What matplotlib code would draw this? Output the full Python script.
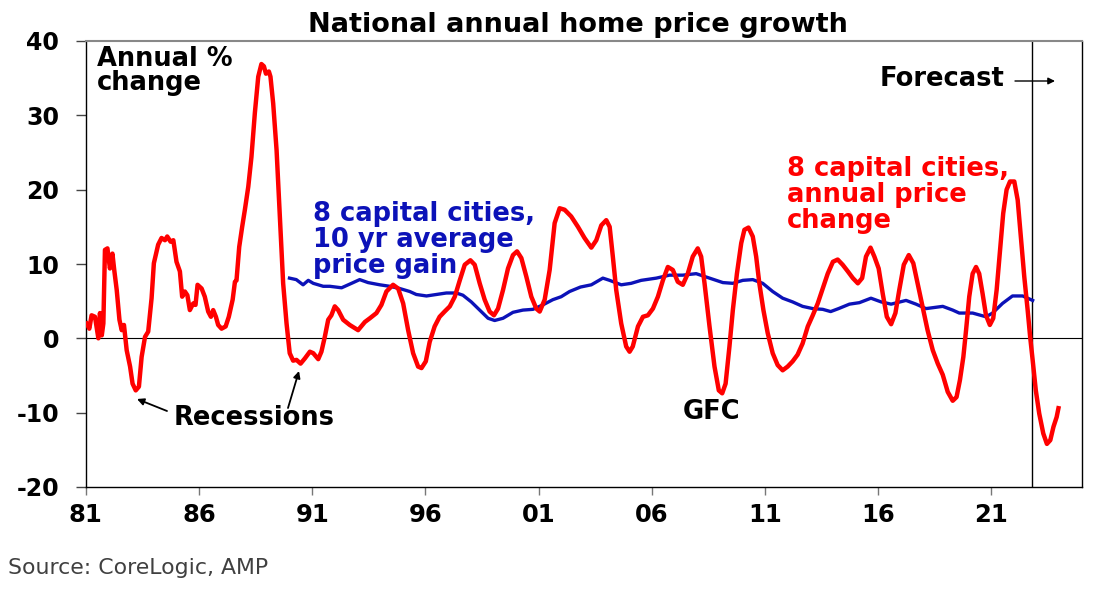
import matplotlib
matplotlib.use("Agg")
import matplotlib.pyplot as plt
import numpy as np

# ---------------- data ----------------
red_years = [1981.04, 1981.16, 1981.26, 1981.41, 1981.56, 1981.63, 1981.71, 1981.78, 1981.85, 1981.96,
             1982.07, 1982.18, 1982.26, 1982.37, 1982.49, 1982.59, 1982.69, 1982.81, 1982.96, 1983.07,
             1983.21, 1983.35, 1983.47, 1983.62, 1983.76, 1983.91, 1984.01, 1984.20, 1984.35, 1984.50,
             1984.60, 1984.75, 1984.87, 1985.01, 1985.16, 1985.26, 1985.38, 1985.49, 1985.60, 1985.75,
             1985.85, 1985.94, 1986.12, 1986.26, 1986.41, 1986.53, 1986.63, 1986.75, 1986.85, 1987.00,
             1987.18, 1987.32, 1987.49, 1987.59, 1987.66, 1987.78, 1987.91, 1988.03, 1988.18, 1988.32,
             1988.47, 1988.62, 1988.76, 1988.87, 1988.96, 1989.09, 1989.16, 1989.28, 1989.43, 1989.57,
             1989.72, 1989.87, 1990.01, 1990.16, 1990.31, 1990.49, 1990.68, 1990.90, 1991.05, 1991.27,
             1991.41, 1991.56, 1991.71, 1991.85, 1992.00, 1992.15, 1992.37, 1992.66, 1993.03, 1993.33,
             1993.55, 1993.84, 1994.06, 1994.28, 1994.575, 1994.80, 1995.02, 1995.24, 1995.46, 1995.68,
             1995.83, 1996.02, 1996.19, 1996.41, 1996.63, 1996.85, 1997.08, 1997.30, 1997.52, 1997.74,
             1997.99, 1998.18, 1998.40, 1998.62, 1998.84, 1999.03, 1999.21, 1999.43, 1999.65, 1999.87,
             2000.05, 2000.24, 2000.46, 2000.68, 2000.90, 2001.05, 2001.27, 2001.49, 2001.71, 2001.93,
             2002.15, 2002.44, 2002.74, 2003.03, 2003.33, 2003.55, 2003.77, 2003.99, 2004.14, 2004.28,
             2004.43, 2004.65, 2004.87, 2005.02, 2005.16, 2005.39, 2005.61, 2005.83, 2006.05, 2006.27,
             2006.49, 2006.71, 2006.93, 2007.15, 2007.37, 2007.59, 2007.81, 2008.03, 2008.18, 2008.33,
             2008.55, 2008.77, 2008.96, 2009.11, 2009.26, 2009.43, 2009.58, 2009.76, 2009.95, 2010.09,
             2010.27, 2010.46, 2010.61, 2010.75, 2010.93, 2011.12, 2011.34, 2011.56, 2011.78, 2012.00,
             2012.22, 2012.44, 2012.66, 2012.89, 2013.11, 2013.33, 2013.55, 2013.77, 2014.00, 2014.21,
             2014.43, 2014.66, 2014.88, 2015.10, 2015.29, 2015.46, 2015.66, 2015.83, 2016.02, 2016.20,
             2016.38, 2016.57, 2016.76, 2016.93, 2017.13, 2017.35, 2017.55, 2017.74, 2017.96, 2018.18,
             2018.41, 2018.63, 2018.85, 2019.07, 2019.29, 2019.46, 2019.61, 2019.76, 2019.88, 2020.02,
             2020.17, 2020.32, 2020.46, 2020.61, 2020.76, 2020.93, 2021.08, 2021.23, 2021.38, 2021.52,
             2021.67, 2021.82, 2022.01, 2022.16, 2022.30, 2022.45, 2022.60, 2022.71, 2022.82, 2022.96,
             2023.11, 2023.29, 2023.45, 2023.60, 2023.74, 2023.88, 2023.96]
red_values = [2.0, 1.3, 3.1, 2.9, 0.0, 3.4, 0.4, 2.0, 11.9, 12.1,
              9.4, 11.4, 9.2, 6.5, 2.5, 1.1, 1.8, -1.6, -3.8, -6.1,
              -7.0, -6.5, -2.5, 0.2, 0.9, 5.4, 10.1, 12.6, 13.5, 13.2,
              13.7, 13.0, 13.2, 10.3, 9.0, 5.6, 6.3, 5.8, 3.8, 4.7,
              4.5, 7.2, 6.7, 5.6, 3.6, 2.9, 3.8, 2.9, 1.8, 1.3,
              1.6, 2.9, 5.2, 7.6, 7.8, 12.3, 15.0, 17.3, 20.4, 24.4,
              30.3, 35.2, 36.9, 36.6, 35.6, 35.9, 35.2, 31.6, 25.3, 16.8,
              7.4, 2.0, -2.0, -3.0, -2.9, -3.4, -2.7, -1.8, -2.0, -2.8,
              -1.8, 0.2, 2.5, 3.1, 4.3, 3.8, 2.5, 1.8, 1.1, 2.2,
              2.7, 3.4, 4.5, 6.3, 7.2, 6.7, 4.7, 1.1, -2.0, -3.8,
              -4.0, -3.1, -0.5, 1.6, 2.9, 3.6, 4.3, 5.6, 7.8, 9.9,
              10.5, 9.9, 7.4, 5.2, 3.6, 3.1, 4.0, 6.5, 9.4, 11.2,
              11.7, 10.8, 8.3, 5.6, 4.0, 3.6, 5.2, 9.2, 15.5, 17.5,
              17.3, 16.4, 15.0, 13.5, 12.2, 13.2, 15.2, 15.9, 15.0, 11.0,
              6.5, 2.0, -1.1, -1.8, -1.1, 1.6, 2.9, 3.1, 4.0, 5.6,
              7.8, 9.6, 9.2, 7.6, 7.2, 8.7, 11.0, 12.1, 11.0, 7.4,
              1.6, -3.8, -7.0, -7.4, -6.1, -1.1, 3.8, 8.7, 12.8, 14.6,
              14.9, 13.7, 11.0, 7.4, 3.8, 0.7, -2.0, -3.6, -4.3, -3.8,
              -3.1, -2.2, -0.7, 1.6, 3.1, 4.7, 6.7, 8.7, 10.3, 10.6,
              9.9, 9.0, 8.1, 7.4, 8.1, 11.0, 12.2, 11.0, 9.4, 6.0,
              2.9, 1.9, 3.4, 6.5, 9.9, 11.2, 10.1, 7.4, 4.3, 1.1,
              -1.6, -3.4, -4.9, -7.2, -8.4, -7.9, -5.6, -2.5, 1.1, 5.6,
              8.7, 9.6, 8.7, 6.0, 3.1, 1.8, 2.7, 6.5, 11.9, 16.8,
              20.0, 21.1, 21.1, 18.6, 13.7, 8.3, 3.8, 0.2, -2.9, -7.0,
              -10.1, -12.8, -14.2, -13.7, -11.9, -10.6, -9.4]

blue_years = [1990.00, 1990.30, 1990.60, 1990.83, 1991.05, 1991.49, 1991.78, 1992.30, 1992.74, 1993.10,
              1993.47, 1993.99, 1994.43, 1994.87, 1995.31, 1995.60, 1996.05, 1996.49, 1996.93, 1997.37,
              1997.66, 1998.03, 1998.40, 1998.77, 1999.06, 1999.43, 1999.87, 2000.31, 2000.75, 2001.19,
              2001.63, 2002.00, 2002.37, 2002.85, 2003.33, 2003.84, 2004.14, 2004.65, 2005.09, 2005.53,
              2006.20, 2006.78, 2007.37, 2007.96, 2008.55, 2009.14, 2009.58, 2010.02, 2010.46, 2010.90,
              2011.34, 2011.78, 2012.22, 2012.66, 2013.11, 2013.55, 2013.90, 2014.25, 2014.73, 2015.17,
              2015.68, 2016.13, 2016.57, 2017.23, 2017.67, 2018.11, 2018.85, 2019.29, 2019.58, 2020.17,
              2020.76, 2021.05, 2021.49, 2021.93, 2022.38, 2022.82]
blue_values = [8.1, 7.9, 7.2, 7.8, 7.4, 7.0, 7.0, 6.8, 7.4, 7.9,
               7.5, 7.2, 7.0, 6.7, 6.3, 5.9, 5.7, 5.9, 6.1, 6.1,
               5.8, 4.9, 3.8, 2.7, 2.4, 2.7, 3.5, 3.8, 3.9, 4.5,
               5.2, 5.6, 6.3, 6.9, 7.2, 8.1, 7.8, 7.2, 7.4, 7.8,
               8.1, 8.5, 8.5, 8.7, 8.1, 7.5, 7.4, 7.8, 7.9, 7.4,
               6.3, 5.4, 4.9, 4.3, 4.0, 3.9, 3.6, 4.0, 4.6, 4.8,
               5.4, 4.9, 4.6, 5.1, 4.6, 4.0, 4.3, 3.8, 3.4, 3.4,
               2.9, 3.4, 4.7, 5.7, 5.7, 5.1]

tick_years = [1981, 1986, 1991, 1996, 2001, 2006, 2011, 2016, 2021]
tick_labels = ["81", "86", "91", "96", "01", "06", "11", "16", "21"]
y_ticks = [-20, -10, 0, 10, 20, 30, 40]
forecast_start = 2022.8

# ---------------- figure ----------------
W, H = 1110, 591
fig = plt.figure(figsize=(W / 100, H / 100), dpi=100)
FONT = "DejaVu Sans"
RED = "#ff0000"
BLUE = "#0c12b8"
ANN = 18.5


def fp(x, y):
    """pixel position (from top-left) -> figure fraction"""
    return (x / W, 1 - y / H)


ax_l, ax_r, ax_t, ax_b = 85.7, 1082, 41, 487
ax = fig.add_axes([ax_l / W, 1 - ax_b / H, (ax_r - ax_l) / W, (ax_b - ax_t) / H])

ax.plot(blue_years, blue_values, color=BLUE, lw=2.4, solid_joinstyle="round", zorder=3)
ax.plot(red_years, red_values, color=RED, lw=3.2, solid_joinstyle="round", zorder=4)

ax.axhline(0, color="black", lw=0.8, zorder=2)
ax.axvline(forecast_start, color="black", lw=1.0, zorder=2)

ax.set_xlim(1981, 2025)
ax.set_ylim(-20, 40)
ax.set_xticks(tick_years)
ax.set_xticklabels(tick_labels, fontfamily=FONT, fontweight="bold", fontsize=17.5)
ax.set_yticks(y_ticks)
ax.set_yticklabels([str(v) for v in y_ticks], fontfamily=FONT, fontweight="bold", fontsize=17)
ax.tick_params(axis="y", direction="out", length=7.2, width=1, color="#444444", pad=12)
ax.tick_params(axis="x", direction="out", length=5.5, width=1, color="#777777", pad=6)

for side in ["left", "bottom", "right"]:
    ax.spines[side].set_color("black")
    ax.spines[side].set_linewidth(1.0)
ax.spines["top"].set_color("#888888")
ax.spines["top"].set_linewidth(1.5)

# ---------------- texts ----------------
fig.text(*fp(578, 25), "National annual home price growth", ha="center", va="center",
         fontfamily=FONT, fontweight="bold", fontsize=19.5)

fig.text(*fp(97, 46), "Annual %\nchange", ha="left", va="top", fontfamily=FONT,
         fontweight="bold", fontsize=ANN, linespacing=0.9)

fig.text(*fp(313, 201), "8 capital cities,\n10 yr average\nprice gain", ha="left", va="top",
         fontfamily=FONT, fontweight="bold", fontsize=ANN, color=BLUE, linespacing=0.99)

fig.text(*fp(787, 156), "8 capital cities,\nannual price\nchange", ha="left", va="top",
         fontfamily=FONT, fontweight="bold", fontsize=ANN, color=RED, linespacing=0.99)

fig.text(*fp(880, 79), "Forecast", ha="left", va="center", fontfamily=FONT,
         fontweight="bold", fontsize=ANN)
fig.add_artist(matplotlib.patches.FancyArrowPatch(
    fp(1015, 81), fp(1055, 81), transform=fig.transFigure, arrowstyle="-|>",
    mutation_scale=10, color="black", lw=1.0, shrinkA=0, shrinkB=0))

fig.text(*fp(174, 418), "Recessions", ha="left", va="center", fontfamily=FONT,
         fontweight="bold", fontsize=ANN)
fig.add_artist(matplotlib.patches.FancyArrowPatch(
    fp(167, 411), fp(137, 399), transform=fig.transFigure, arrowstyle="-|>",
    mutation_scale=10, color="black", lw=1.3, shrinkA=0, shrinkB=0))
fig.add_artist(matplotlib.patches.FancyArrowPatch(
    fp(288, 408), fp(299, 371), transform=fig.transFigure, arrowstyle="-|>",
    mutation_scale=10, color="black", lw=1.3, shrinkA=0, shrinkB=0))

fig.text(*fp(683, 412), "GFC", ha="left", va="center", fontfamily=FONT,
         fontweight="bold", fontsize=ANN)

fig.text(*fp(8, 568), "Source: CoreLogic, AMP", ha="left", va="center", fontfamily=FONT,
         fontsize=15.8, color="#404040")

fig.savefig("out.png", dpi=100)
